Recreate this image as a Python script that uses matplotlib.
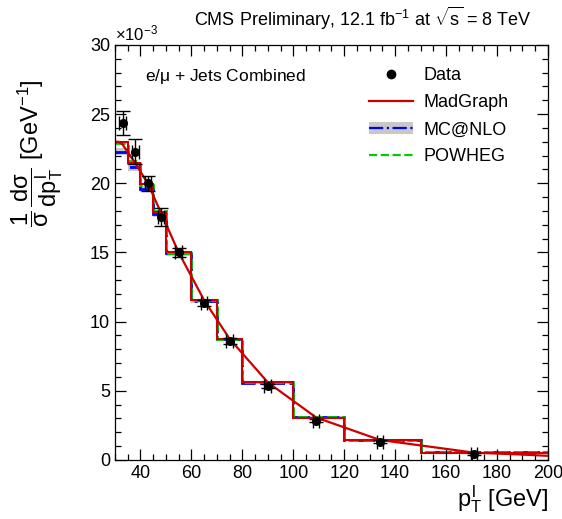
import numpy as np
import matplotlib
matplotlib.use("Agg")
import matplotlib.pyplot as plt
from matplotlib.patches import Patch
from matplotlib.lines import Line2D
from matplotlib.ticker import MultipleLocator

plt.rcParams['font.family'] = ['Liberation Sans', 'DejaVu Sans']
plt.rcParams['mathtext.fontset'] = 'custom'
plt.rcParams['mathtext.rm'] = 'Liberation Sans'
plt.rcParams['mathtext.it'] = 'Liberation Sans'
plt.rcParams['mathtext.sf'] = 'Liberation Sans'

# bin edges in lepton pT [GeV]
bin_edges = [30, 35, 40, 45, 50, 60, 70, 80, 100, 120, 150, 200]

# normalised cross sections, units of 1e-3 GeV^-1
madgraph = [23.0, 21.45, 19.95, 17.9, 15.0, 11.55, 8.76, 5.61, 3.07, 1.45, 0.53]
mcatnlo = [22.3, 21.15, 19.6, 17.8, 14.95, 11.5, 8.72, 5.6, 3.08, 1.47, 0.55]
mcatnlo_unc = [0.25, 0.25, 0.22, 0.2, 0.18, 0.15, 0.12, 0.1, 0.08, 0.06, 0.04]
powheg = [22.9, 21.6, 19.85, 18.0, 14.95, 11.55, 8.74, 5.62, 3.08, 1.46, 0.55]

# smooth MadGraph curve
curve_x = [30, 31.5, 33, 38, 43, 48, 55, 65, 75, 90, 109, 134, 171, 189, 200]
curve_y = [23.0, 23.0, 22.8, 21.45, 19.95, 17.9, 15.0, 11.55, 8.76, 5.61, 3.07, 1.45, 0.53, 0.4, 0.3]

# data
data_x = [33, 38, 43, 48, 55, 65, 75, 90, 109, 134, 171]
data_y = [24.35, 22.3, 20.0, 17.6, 15.0, 11.35, 8.6, 5.35, 2.85, 1.33, 0.44]
data_yerr = [0.85, 0.9, 0.55, 0.65, 0.3, 0.25, 0.2, 0.15, 0.12, 0.1, 0.08]
data_xerr = [1.3, 1.3, 1.3, 1.3, 1.3, 1.3, 1.3, 1.3, 1.3, 1.3, 1.3]

fig = plt.figure(figsize=(5.62, 5.19), dpi=100)
ax = fig.add_axes([0.2046, 0.1137, 0.7704, 0.7996])

# MC@NLO band + lines
lo = np.array(mcatnlo) - np.array(mcatnlo_unc)
hi = np.array(mcatnlo) + np.array(mcatnlo_unc)
ax.stairs(hi, bin_edges, baseline=lo, fill=True, color='#c8c8c8', lw=0)
ax.stairs(mcatnlo, bin_edges, color='#0000ff', lw=2.0, ls='-.', baseline=None)
ax.stairs(powheg, bin_edges, color='#00cc00', lw=2.0, ls='--', baseline=None)
ax.stairs(madgraph, bin_edges, color='#cc0000', lw=1.5, baseline=None)
ax.plot(curve_x, curve_y, color='#cc0000', lw=1.6)

ax.errorbar(data_x, data_y, yerr=data_yerr, xerr=data_xerr, fmt='o', color='black',
            ms=5.5, lw=1.0, capsize=5, capthick=1.0, zorder=5)

ax.set_xlim(30, 200)
ax.set_ylim(0, 30)
ax.xaxis.set_major_locator(MultipleLocator(20))
ax.xaxis.set_minor_locator(MultipleLocator(5))
ax.yaxis.set_major_locator(MultipleLocator(5))
ax.yaxis.set_minor_locator(MultipleLocator(1))
ax.tick_params(which='both', direction='in', top=True, right=True, labelsize=13)
ax.tick_params(which='major', length=8, width=0.9)
ax.tick_params(which='minor', length=4.5, width=0.9)
for s in ax.spines.values():
    s.set_linewidth(0.9)

ax.set_xlabel(r'$p_{T}^{l}$ [GeV]', fontsize=17, loc='right', labelpad=1)
ax.set_ylabel(r'$\dfrac{1}{\sigma}\,\dfrac{d\sigma}{dp_{T}^{l}}$ [GeV$^{-1}$]', fontsize=17)
ax.yaxis.set_label_coords(-0.115, 0.74)

ax.text(0.0, 1.005, r'$\times10^{-3}$', transform=ax.transAxes, fontsize=12,
        ha='left', va='bottom')
fig.text(0.645, 0.965, r'CMS Preliminary, 12.1 fb$^{-1}$ at $\sqrt{s}$ = 8 TeV',
         fontsize=13, ha='center', va='center')
ax.text(0.07, 0.925, r'e/$\mu$ + Jets Combined', transform=ax.transAxes,
        fontsize=12.5, ha='left', va='center')

handles = [
    Line2D([], [], marker='o', color='black', ls='none', ms=6),
    Line2D([], [], color='#cc0000', lw=1.6),
    (Patch(facecolor='#c8c8c8', edgecolor='none'),
     Line2D([], [], color='#0000ff', lw=1.6, ls='-.')),
    Line2D([], [], color='#00cc00', lw=1.6, ls='--'),
]
labels = ['Data', 'MadGraph', 'MC@NLO', 'POWHEG']
ax.legend(handles, labels, loc='upper left', bbox_to_anchor=(0.55, 0.985),
          frameon=False, fontsize=13, handlelength=2.4, labelspacing=0.55,
          handletextpad=0.6)

fig.savefig('out.png', dpi=100)
